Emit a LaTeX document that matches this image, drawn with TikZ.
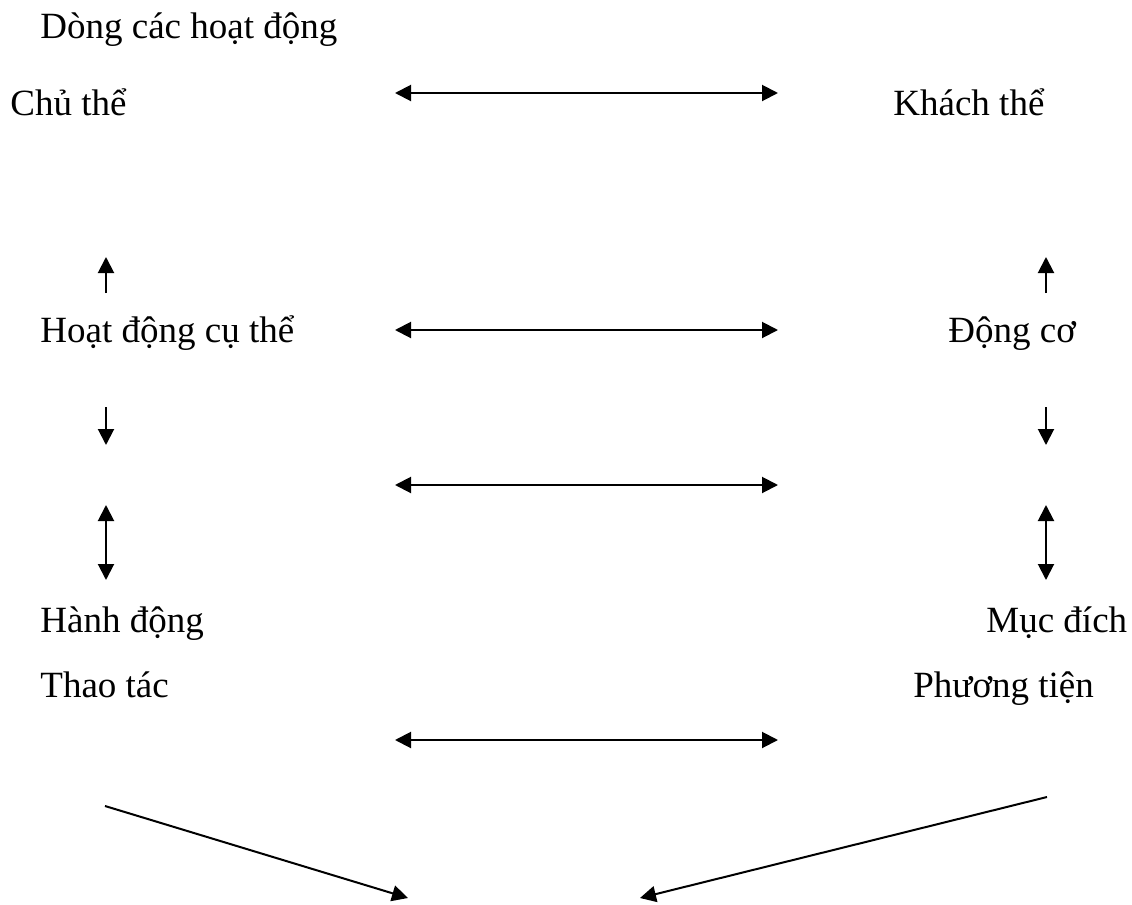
\documentclass[tikz,border=0pt]{standalone}
\usepackage{fontspec}
\setmainfont{Liberation Serif}
\usepackage{tikz}
\usetikzlibrary{
  positioning,
  calc,
  arrows.meta
}
\tikzstyle{nhan}=[anchor=base west, inner sep=0pt, font=\fontsize{18.5}{22}\selectfont]
\tikzstyle{muiten}=[-{Triangle[length=8pt, width=8pt]}, line width=1pt]
\tikzstyle{haichieu}=[{Triangle[length=8pt, width=8pt]}-{Triangle[length=8pt, width=8pt]}, line width=1pt]

\begin{document}
\begin{tikzpicture}[x=0.5pt, y=-0.5pt]
      \def\xtrai{106};
      \def\xphai{1046};
      \def\xa{395};
      \def\xb{778};

      \useasboundingbox (0,0) rectangle (1132,905);

      % các nhãn
      \node[nhan] (dong) at (40,38) {Dòng các hoạt động};
      \node[nhan] (chuthe) at (10,115) {Chủ thể};
      \node[nhan] (khachthe) at (893,115) {Khách thể};
      \node[nhan] (hoatdong) at (40,342) {Hoạt động cụ thể};
      \node[nhan] (dongco) at (948,342) {Động cơ};
      \node[nhan] (hanhdong) at (40,632) {Hành động};
      \node[nhan] (mucdich) at (986,632) {Mục đích};
      \node[nhan] (thaotac) at (40,697) {Thao tác};
      \node[nhan] (phuongtien) at (913,697) {Phương tiện};

      % đầu mút các mũi tên ngang
      \coordinate (A1) at (\xa,93);
      \coordinate (B1) at (\xb,93);
      \coordinate (A2) at (\xa,330);
      \coordinate (B2) at (\xb,330);
      \coordinate (A3) at (\xa,485);
      \coordinate (B3) at (\xb,485);
      \coordinate (A4) at (\xa,740);
      \coordinate (B4) at (\xb,740);

      % mũi tên ngang
      \draw[haichieu] (A1) -- (B1);
      \draw[haichieu] (A2) -- (B2);
      \draw[haichieu] (A3) -- (B3);
      \draw[haichieu] (A4) -- (B4);

      % đầu mút các mũi tên dọc
      \coordinate (T1) at (\xtrai,293);
      \coordinate (T2) at (\xtrai,257);
      \coordinate (T3) at (\xtrai,407);
      \coordinate (T4) at (\xtrai,445);
      \coordinate (T5) at (\xtrai,505);
      \coordinate (T6) at (\xtrai,580);
      \coordinate (P1) at (\xphai,293);
      \coordinate (P2) at (\xphai,257);
      \coordinate (P3) at (\xphai,407);
      \coordinate (P4) at (\xphai,445);
      \coordinate (P5) at (\xphai,505);
      \coordinate (P6) at (\xphai,580);

      % mũi tên dọc bên trái
      \draw[muiten] (T1) -- (T2);
      \draw[muiten] (T3) -- (T4);
      \draw[haichieu] (T5) -- (T6);
      % mũi tên dọc bên phải
      \draw[muiten] (P1) -- (P2);
      \draw[muiten] (P3) -- (P4);
      \draw[haichieu] (P5) -- (P6);

      % mũi tên chéo
      \coordinate (C1) at (105,806);
      \coordinate (C2) at (408,898);
      \coordinate (C3) at (1047,797);
      \coordinate (C4) at (640,898);
      \draw[muiten] (C1) -- (C2);
      \draw[muiten] (C3) -- (C4);
    \end{tikzpicture}
\end{document}
